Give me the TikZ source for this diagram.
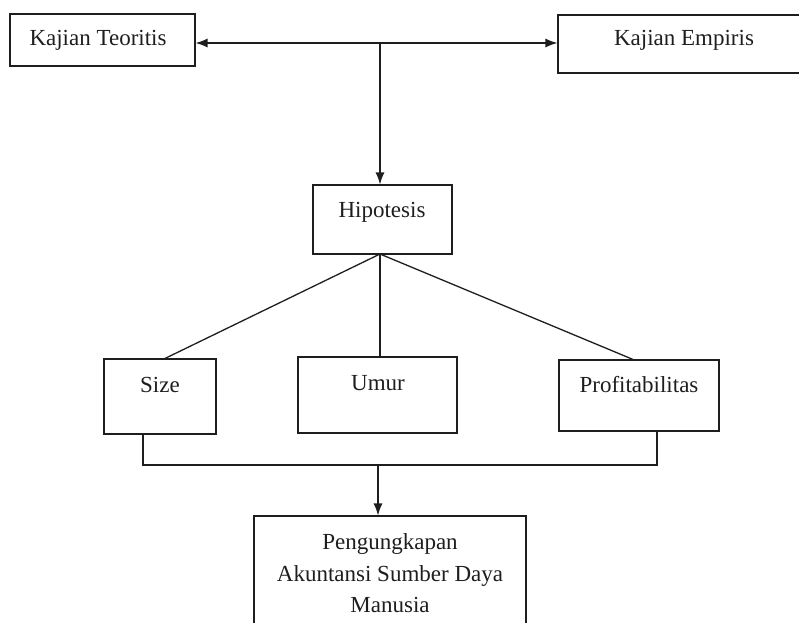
\documentclass[tikz,border=0pt]{standalone}
\usepackage{fontspec}
\setmainfont{Liberation Serif}
\usetikzlibrary{arrows.meta,calc}
\definecolor{ink}{HTML}{1E1E1E}
\begin{document}
\begin{tikzpicture}[x=1pt,y=-1pt,
  box/.style={draw=ink,line width=1.1pt,rectangle,inner sep=0pt},
  lbl/.style={inner sep=0pt,anchor=base,text=ink,font=\fontsize{23}{31}\selectfont},
  conn/.style={draw=ink,line width=1.3pt},
  arr/.style={conn,-{Latex[length=12pt,width=9pt]}}]
\useasboundingbox (0,0) rectangle (799,622);
% boxes
\node[box,minimum width=185pt,minimum height=52pt] (kt) at (102.5,40) {};
\node[box,minimum width=248pt,minimum height=58pt] (ke) at (682,44) {};
\node[box,minimum width=139pt,minimum height=69pt] (hip) at (382.5,219.5) {};
\node[box,minimum width=112pt,minimum height=75pt] (size) at (160,396.5) {};
\node[box,minimum width=159pt,minimum height=76pt] (umur) at (377.5,395) {};
\node[box,minimum width=160pt,minimum height=71pt] (prof) at (639,395.5) {};
\node[box,minimum width=272pt,minimum height=124pt] (peng) at (390,578) {};
% labels
\node[lbl] (ktt) at (98,45) {Kajian Teoritis};
\node[lbl] (ket) at (684,45) {Kajian Empiris};
\node[lbl] (hipt) at (382,217) {Hipotesis};
\node[lbl] (sizet) at (160,392) {Size};
\node[lbl] (umurt) at (378,390) {Umur};
\node[lbl] (proft) at (639,392) {Profitabilitas};
\node[lbl] (peng1) at (390,549) {Pengungkapan};
\node[lbl] (peng2) at (390,581) {Akuntansi Sumber Daya};
\node[lbl] (peng3) at (390,612) {Manusia};
% connectors
\coordinate (j) at (380,43);
\draw[arr] (j) -- (j -| kt.east);
\draw[arr] (j) -- (j -| ke.west);
\draw[arr] (j) -- (j |- hip.north);
\coordinate (hb) at (380,254);
\draw[conn] (hb) -- ([xshift=5pt]size.north);
\draw[conn] (hb) -- (hb |- umur.north);
\draw[conn] (hb) -- ([xshift=-6pt]prof.north);
\coordinate (bus) at (378,465);
\draw[conn] ([xshift=-17pt]size.south) |- (bus) -| ([xshift=18pt]prof.south);
\draw[arr] (bus) -- (bus |- peng.north);
\end{tikzpicture}
\end{document}
